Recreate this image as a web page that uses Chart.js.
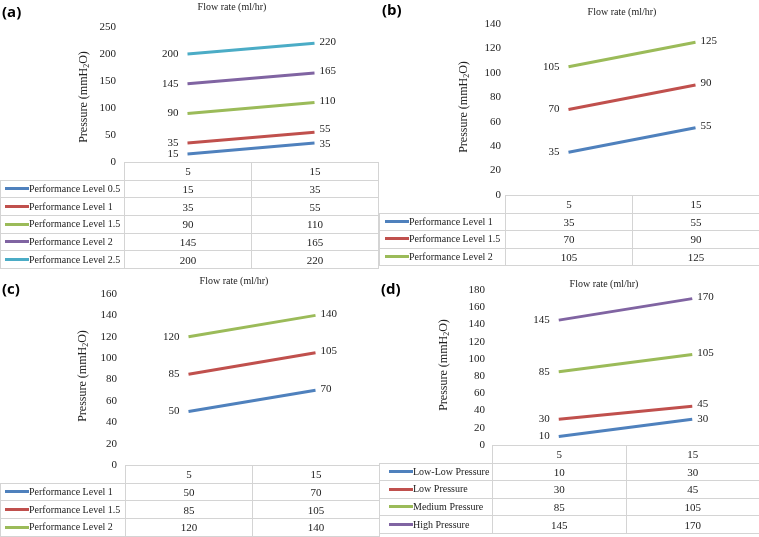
<!DOCTYPE html>
<html>
<head>
<meta charset="utf-8">
<script src="https://cdn.jsdelivr.net/npm/chart.js@4.4.0/dist/chart.umd.min.js"></script>
<style>
    body { margin: 0; background: #fff; }
    #lienzo { position: relative; width: 759px; height: 537px; overflow: hidden; }
    .panel { position: absolute; }
    .panel canvas { position: absolute; left: 0; top: 0; }
    .tag { position: absolute; font: bold 15px "Open Sans", sans-serif; line-height: 16px; color: #000; }
    table { position: absolute; left: 0; border-collapse: collapse; table-layout: fixed;
            font: 11px "Liberation Serif", "Times New Roman", serif; color: #222; }
    td { border: 1px solid #d4d4d4; text-align: center; padding: 0; white-space: nowrap; line-height: 12px; }
    td.vacia { border-top: none; border-left: none; }
    td.leyenda { text-align: left; font-size: 10px; }
    .clave { display: inline-block; width: 24px; height: 3px; vertical-align: middle; margin-top: -2px; }
</style>
</head>
<body>
<div id="lienzo"></div>
<script>
// Datos de los cuatro paneles
const flowRates = ['5', '15'];

const seriesA = ['Performance Level 0.5', 'Performance Level 1', 'Performance Level 1.5', 'Performance Level 2', 'Performance Level 2.5'];
const pressureA = [[15, 35], [35, 55], [90, 110], [145, 165], [200, 220]];
const ticksA = [0, 50, 100, 150, 200, 250];

const seriesB = ['Performance Level 1', 'Performance Level 1.5', 'Performance Level 2'];
const pressureB = [[35, 55], [70, 90], [105, 125]];
const ticksB = [0, 20, 40, 60, 80, 100, 120, 140];

const seriesC = ['Performance Level 1', 'Performance Level 1.5', 'Performance Level 2'];
const pressureC = [[50, 70], [85, 105], [120, 140]];
const ticksC = [0, 20, 40, 60, 80, 100, 120, 140, 160];

const seriesD = ['Low-Low Pressure', 'Low Pressure', 'Medium Pressure', 'High Pressure'];
const pressureD = [[10, 30], [30, 45], [85, 105], [145, 170]];
const ticksD = [0, 20, 40, 60, 80, 100, 120, 140, 160, 180];

const xTitle = 'Flow rate (ml/hr)';
const yTitle = ['Pressure (mmH', '2', 'O)'];

// Colores tipo Excel 2010
const colores = ['#4F81BD', '#C0504D', '#9BBB59', '#8064A2', '#4BACC6'];
const TEXTO = '#222';

// Geometría de cada panel (coordenadas del panel)
const paneles = [
    { tag: '(a)', x: 0, y: 0, w: 379, h: 268, tagX: 2, tagY: 3,
      names: seriesA, data: pressureA, ticks: ticksA,
      top: 27, bottom: 162, left: 124, right: 378, tickPad: 8,
      titleX: 232, titleY: 7, yTitleX: 84, yTitleY: 97, rowH: 17.7, keyLeft: 4 },
    { tag: '(b)', x: 379, y: 0, w: 380, h: 268, tagX: 3, tagY: 1,
      names: seriesB, data: pressureB, ticks: ticksB,
      top: 24, bottom: 195, left: 126, right: 380, tickPad: 4,
      titleX: 243, titleY: 12, yTitleX: 85, yTitleY: 107, rowH: 17.5, keyLeft: 5 },
    { tag: '(c)', x: 0, y: 268, w: 379, h: 269, tagX: 2, tagY: 12,
      names: seriesC, data: pressureC, ticks: ticksC,
      top: 26, bottom: 197, left: 125, right: 379, tickPad: 8,
      titleX: 234, titleY: 13, yTitleX: 83, yTitleY: 108, rowH: 17.7, keyLeft: 4 },
    { tag: '(d)', x: 379, y: 268, w: 380, h: 269, tagX: 2, tagY: 12,
      names: seriesD, data: pressureD, ticks: ticksD,
      top: 22, bottom: 177, left: 113, right: 380, tickPad: 7,
      titleX: 225, titleY: 16, yTitleX: 65, yTitleY: 97, rowH: 17.6, keyLeft: 9 }
];

const FUENTE = '"Liberation Serif", "Times New Roman", serif';
const EXTRA = 10; // espacio bajo el área para la etiqueta "0"

// Títulos de ejes (con subíndice)
const textosPanel = {
    id: 'textosPanel',
    afterDraw(chart, args, opts) {
        const p = opts.panel;
        const ctx = chart.ctx;
        ctx.save();
        ctx.fillStyle = TEXTO;
        ctx.textBaseline = 'middle';
        ctx.textAlign = 'center';
        ctx.font = '10px ' + FUENTE;
        ctx.fillText(xTitle, p.titleX, p.titleY);

        ctx.translate(p.yTitleX, p.yTitleY);
        ctx.rotate(-Math.PI / 2);
        const grande = '12px ' + FUENTE, chica = '8px ' + FUENTE;
        ctx.font = grande;
        const w1 = ctx.measureText(yTitle[0]).width;
        const w3 = ctx.measureText(yTitle[2]).width;
        ctx.font = chica;
        const w2 = ctx.measureText(yTitle[1]).width;
        let x = -(w1 + w2 + w3) / 2;
        ctx.textAlign = 'left';
        ctx.font = grande; ctx.fillText(yTitle[0], x, 0); x += w1;
        ctx.font = chica; ctx.fillText(yTitle[1], x, 3); x += w2;
        ctx.font = grande; ctx.fillText(yTitle[2], x, 0);
        ctx.restore();
    }
};

// Etiquetas de valores en los extremos de cada línea
const etiquetas = {
    id: 'etiquetas',
    afterDatasetsDraw(chart) {
        const ctx = chart.ctx;
        ctx.save();
        ctx.font = '11px ' + FUENTE;
        ctx.fillStyle = TEXTO;
        ctx.textBaseline = 'middle';
        const lados = [[], []];
        chart.data.datasets.forEach((ds, i) => {
            chart.getDatasetMeta(i).data.forEach((pt, j) => {
                lados[j].push({ x: pt.x, y: pt.y, txt: String(ds.data[j]) });
            });
        });
        // izquierda
        ctx.textAlign = 'right';
        lados[0].forEach(e => ctx.fillText(e.txt, e.x - 9, e.y));
        // derecha, separando las que se pisan
        const der = lados[1].map(e => ({ ...e, y: e.y - 1.5 })).sort((a, b) => b.y - a.y);
        for (let k = 1; k < der.length; k++) {
            const gap = der[k - 1].y - der[k].y;
            if (gap < 15) {
                const d = (15 - gap) / 2;
                der[k - 1].y += d;
                der[k].y -= d;
            }
        }
        ctx.textAlign = 'left';
        der.forEach(e => ctx.fillText(e.txt, e.x + 5, e.y));
        ctx.restore();
    }
};

function construirTabla(p) {
    const t = document.createElement('table');
    t.style.top = p.bottom + 'px';
    t.style.width = p.right + 'px';
    const cg = document.createElement('colgroup');
    const anchoCol = (p.right - p.left) / 2;
    [p.left, anchoCol, anchoCol].forEach(w => {
        const c = document.createElement('col');
        c.style.width = w + 'px';
        cg.appendChild(c);
    });
    t.appendChild(cg);

    const cab = document.createElement('tr');
    cab.style.height = p.rowH + 'px';
    const vacia = document.createElement('td');
    vacia.className = 'vacia';
    cab.appendChild(vacia);
    flowRates.forEach(f => {
        const td = document.createElement('td');
        td.textContent = f;
        cab.appendChild(td);
    });
    t.appendChild(cab);

    p.names.forEach((nombre, i) => {
        const tr = document.createElement('tr');
        tr.style.height = p.rowH + 'px';
        const ley = document.createElement('td');
        ley.className = 'leyenda';
        ley.style.paddingLeft = p.keyLeft + 'px';
        const clave = document.createElement('span');
        clave.className = 'clave';
        clave.style.background = colores[i];
        ley.appendChild(clave);
        ley.appendChild(document.createTextNode(nombre));
        tr.appendChild(ley);
        p.data[i].forEach(v => {
            const td = document.createElement('td');
            td.textContent = v;
            tr.appendChild(td);
        });
        t.appendChild(tr);
    });
    return t;
}

const lienzo = document.getElementById('lienzo');

paneles.forEach(p => {
    const div = document.createElement('div');
    div.className = 'panel';
    div.style.left = p.x + 'px';
    div.style.top = p.y + 'px';
    div.style.width = p.w + 'px';
    div.style.height = p.h + 'px';

    const canvas = document.createElement('canvas');
    canvas.width = p.w;
    canvas.height = p.bottom + EXTRA;
    canvas.style.width = p.w + 'px';
    canvas.style.height = (p.bottom + EXTRA) + 'px';
    div.appendChild(canvas);
    div.appendChild(construirTabla(p));

    const tag = document.createElement('div');
    tag.className = 'tag';
    tag.style.left = p.tagX + 'px';
    tag.style.top = p.tagY + 'px';
    tag.textContent = p.tag;
    div.appendChild(tag);

    lienzo.appendChild(div);

    new Chart(canvas.getContext('2d'), {
        type: 'line',
        data: {
            labels: flowRates,
            datasets: p.names.map((nombre, i) => ({
                label: nombre,
                data: p.data[i],
                borderColor: colores[i],
                backgroundColor: colores[i],
                borderWidth: 3,
                pointRadius: 0,
                tension: 0,
                fill: false
            }))
        },
        options: {
            responsive: false,
            animation: false,
            devicePixelRatio: 1,
            layout: { padding: { top: p.top, bottom: EXTRA, left: 0, right: p.w - p.right } },
            plugins: {
                legend: { display: false },
                title: { display: false },
                tooltip: { enabled: false },
                textosPanel: { panel: p }
            },
            scales: {
                x: { type: 'category', offset: true, display: false },
                y: {
                    min: 0,
                    max: p.ticks[p.ticks.length - 1],
                    grid: { display: false, drawTicks: false },
                    border: { display: false },
                    ticks: { padding: p.tickPad, color: TEXTO, font: { family: FUENTE, size: 11 } },
                    afterBuildTicks: s => { s.ticks = p.ticks.map(v => ({ value: v })); },
                    afterFit: s => { s.width = p.left; s.paddingTop = 0; s.paddingBottom = 0; }
                }
            }
        },
        plugins: [textosPanel, etiquetas]
    });
});
</script>
</body>
</html>
